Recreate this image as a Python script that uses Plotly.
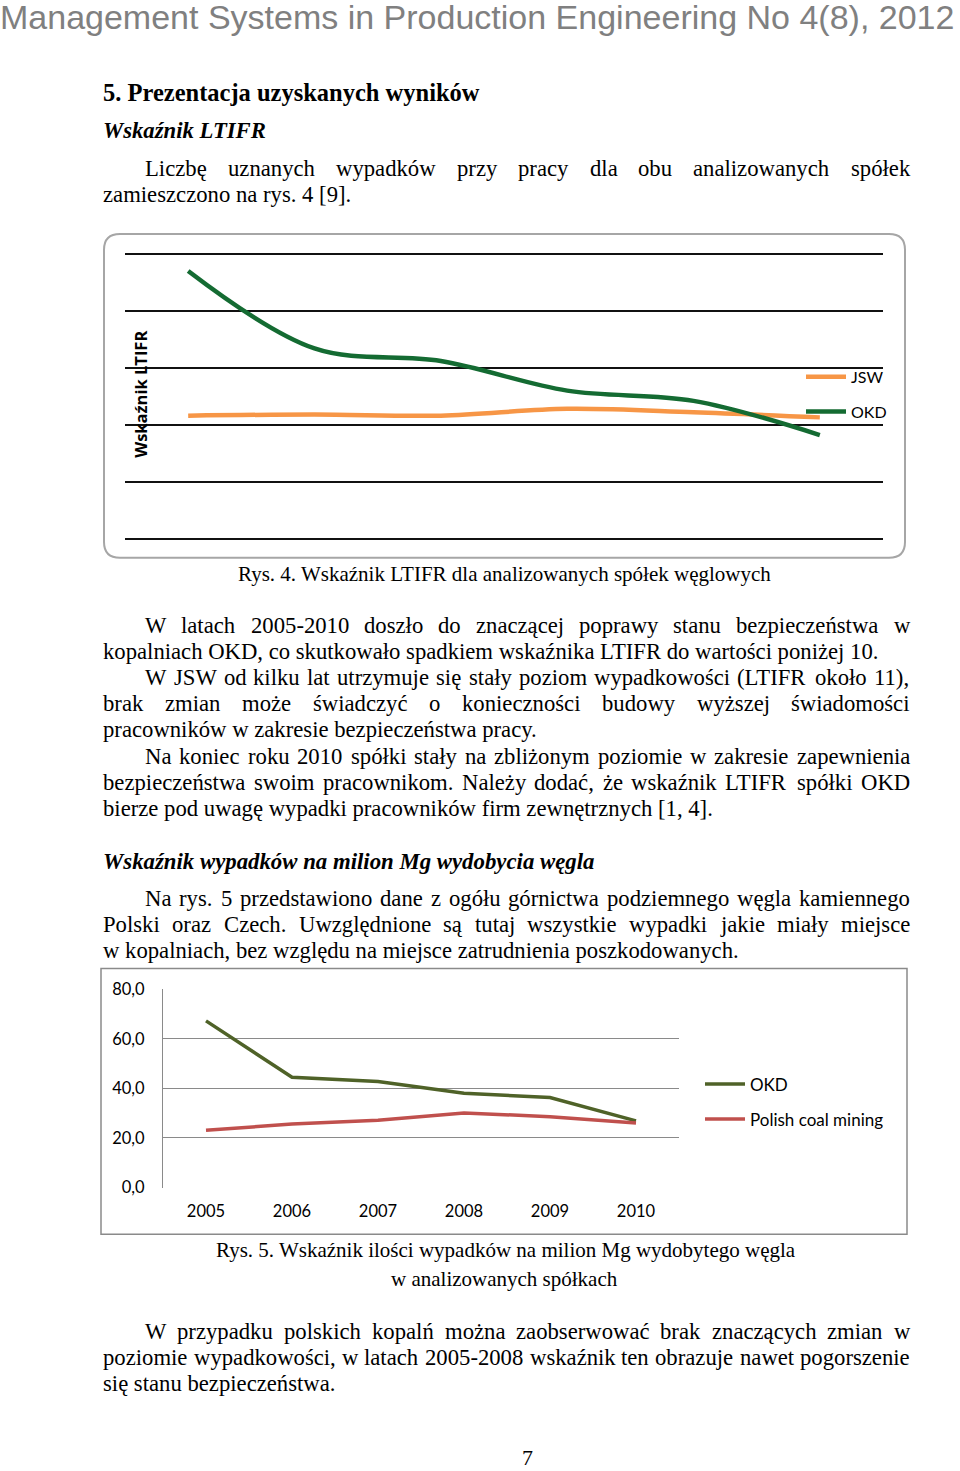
import plotly.graph_objects as go

# ---------------- data ----------------
years = ["2005", "2006", "2007", "2008", "2009", "2010"]
ltifr_jsw = [10.8, 10.9, 10.8, 11.4, 11.1, 10.65]
ltifr_okd = [23.5, 16.7, 15.6, 13.0, 12.1, 9.1]
acc_okd = [67.3, 44.5, 42.8, 38.1, 36.3, 26.9]
acc_polish = [23.1, 25.6, 27.1, 30.1, 28.6, 26.0]

W, H = 960, 1471
# vertical calibration of page placement (empirical)
Y_OFF, Y_SC = 9.0, 0.9876
def px(x):
    return x / W
def fy(y):
    return (y - Y_OFF) / Y_SC
def py(y):
    return 1 - fy(y) / H

SERIF = "Liberation Serif"
SANS = "Lato"
BODY = 22.7

# Times metrics (per 1000 em)
TW = {' ': 250, '!': 333, '(': 333, ')': 333, ',': 250, '-': 333, '.': 250, ':': 278,
      '[': 333, ']': 333, '0': 500, '1': 500, '2': 500, '3': 500, '4': 500, '5': 500,
      '6': 500, '7': 500, '8': 500, '9': 500,
      'A': 722, 'B': 667, 'C': 667, 'D': 722, 'E': 611, 'F': 556, 'G': 722, 'H': 722,
      'I': 333, 'J': 389, 'K': 722, 'L': 611, 'M': 889, 'N': 722, 'O': 722, 'P': 556,
      'Q': 722, 'R': 667, 'S': 556, 'T': 611, 'U': 722, 'V': 722, 'W': 944, 'X': 722,
      'Y': 722, 'Z': 611,
      'a': 444, 'b': 500, 'c': 444, 'd': 500, 'e': 444, 'f': 333, 'g': 500, 'h': 500,
      'i': 278, 'j': 278, 'k': 500, 'l': 278, 'm': 778, 'n': 500, 'o': 500, 'p': 500,
      'q': 500, 'r': 333, 's': 389, 't': 278, 'u': 500, 'v': 500, 'w': 722, 'x': 500,
      'y': 500, 'z': 444,
      'ę': 444, 'ą': 444, 'ó': 500, 'ł': 278, 'ś': 389, 'ć': 444, 'ż': 444, 'ź': 444,
      'ń': 500, 'Ł': 611, 'Ś': 556}

def tw(s, size):
    return sum(TW.get(c, 500) for c in s) / 1000 * size

annotations = []

def left_line(text, x, y, size=BODY, family=SERIF, color="black"):
    annotations.append(dict(text=text, x=px(x), y=py(y), xref="paper", yref="paper",
                            xanchor="left", yanchor="middle", showarrow=False, borderpad=0,
                            font=dict(family=family, size=size, color=color)))

def center_line(text, x, y, size=BODY, family=SERIF, color="black"):
    annotations.append(dict(text=text, x=px(x), y=py(y), xref="paper", yref="paper",
                            xanchor="center", yanchor="middle", showarrow=False, borderpad=0,
                            font=dict(family=family, size=size, color=color)))

def justified(text, x0, x1, y, size=BODY):
    words = text.split(" ")
    widths = [tw(w, size) for w in words]
    gap = (x1 - x0 - sum(widths)) / (len(words) - 1)
    x = x0
    for w, wd in zip(words, widths):
        left_line(w, x, y, size)
        x += wd + gap

# ---------------- page text ----------------
left_line("Management Systems in Production Engineering No 4(8), 2012", -1, 16, 34,
          "Liberation Sans", "#808080")
left_line("<b>5. Prezentacja uzyskanych wyników</b>", 102, 92, 24.5)
left_line("<b><i>Wskaźnik LTIFR</i></b>", 102, 130)
justified("Liczbę uznanych wypadków przy pracy dla obu analizowanych spółek", 144, 909, 168)
left_line("zamieszczono na rys. 4 [9].", 102, 194)
center_line("Rys. 4. Wskaźnik LTIFR dla analizowanych spółek węglowych", 505, 573, 21)

justified("W latach 2005-2010 doszło do znaczącej poprawy stanu bezpieczeństwa w", 144, 909, 625)
left_line("kopalniach OKD, co skutkowało spadkiem wskaźnika LTIFR do wartości poniżej 10.", 102, 651)
justified("W JSW od kilku lat utrzymuje się stały poziom wypadkowości (LTIFR około 11),", 144, 909, 677)
justified("brak zmian może świadczyć o konieczności budowy wyższej świadomości", 102, 909, 703)
left_line("pracowników w zakresie bezpieczeństwa pracy.", 102, 729)
justified("Na koniec roku 2010 spółki stały na zbliżonym poziomie w zakresie zapewnienia", 144, 909, 756)
justified("bezpieczeństwa swoim pracownikom. Należy dodać, że wskaźnik LTIFR spółki OKD", 102, 909, 782)
left_line("bierze pod uwagę wypadki pracowników firm zewnętrznych [1, 4].", 102, 808)

left_line("<b><i>Wskaźnik wypadków na milion Mg wydobycia węgla</i></b>", 102, 861, 22.8)
justified("Na rys. 5 przedstawiono dane z ogółu górnictwa podziemnego węgla kamiennego", 144, 909, 898)
justified("Polski oraz Czech. Uwzględnione są tutaj wszystkie wypadki jakie miały miejsce", 102, 909, 924)
left_line("w kopalniach, bez względu na miejsce zatrudnienia poszkodowanych.", 102, 950)

center_line("Rys. 5. Wskaźnik ilości wypadków na milion Mg wydobytego węgla", 506, 1250, 21)
center_line("w analizowanych spółkach", 505, 1279, 21)

justified("W przypadku polskich kopalń można zaobserwować brak znaczących zmian w", 144, 909, 1331)
justified("poziomie wypadkowości, w latach 2005-2008 wskaźnik ten obrazuje nawet pogorszenie", 102, 909, 1357)
left_line("się stanu bezpieczeństwa.", 102, 1383)
center_line("7", 527, 1457, 22)

# chart 1 axis title
annotations.append(dict(text="<b>Wskaźnik LTIFR</b>", x=px(141), y=py(394), xref="paper", yref="paper",
                        xanchor="center", yanchor="middle", textangle=-90, showarrow=False,
                        font=dict(family="Open Sans", size=16.5, color="black")))

# ---------------- figure ----------------
fig = go.Figure()

C_JSW = "#F79646"
C_OKD1 = "#146B32"
C_OKD2 = "#4F6228"
C_POL = "#C0504D"

fig.add_trace(go.Scatter(x=years, y=ltifr_jsw, name="JSW", mode="lines",
                         line=dict(color=C_JSW, width=4.5, shape="spline", smoothing=1),
                         xaxis="x", yaxis="y", legend="legend", legendgroup="a"))
fig.add_trace(go.Scatter(x=years, y=ltifr_okd, name="OKD", mode="lines",
                         line=dict(color=C_OKD1, width=4.5, shape="spline", smoothing=1),
                         xaxis="x", yaxis="y", legend="legend", legendgroup="b"))
fig.add_trace(go.Scatter(x=years, y=acc_okd, name="OKD", mode="lines",
                         line=dict(color=C_OKD2, width=3.5),
                         xaxis="x2", yaxis="y2", legend="legend2", legendgroup="c"))
fig.add_trace(go.Scatter(x=years, y=acc_polish, name="Polish coal mining", mode="lines",
                         line=dict(color=C_POL, width=3.5),
                         xaxis="x2", yaxis="y2", legend="legend2", legendgroup="d"))

# chart 1 axes: 0 -> y538, 25 -> y253 (reference pixels)
u1 = (538 - 253) / 25
pad1 = 0.1
fig.update_layout(
    xaxis=dict(domain=[px(125), px(883)], type="category", range=[-0.5, 5.5],
               showgrid=False, showticklabels=False, zeroline=False, showline=False,
               anchor="y", fixedrange=True),
    yaxis=dict(domain=[py(538 + pad1 * u1), py(253 - pad1 * u1)], range=[-pad1, 25 + pad1],
               dtick=5, tick0=0, showgrid=True, gridcolor="#111111", gridwidth=1.6,
               showticklabels=False, zeroline=False, showline=False, anchor="x", fixedrange=True),
)

# chart 2 axes: 0 -> y1187, 80 -> y989 (reference pixels)
u2 = (1187 - 989) / 80
pad2 = 0.2
fig.update_layout(
    xaxis2=dict(domain=[px(163), px(679)], type="category", range=[-0.5, 5.5],
                showgrid=False, zeroline=False, showline=False, ticks="",
                ticklabelstandoff=12, anchor="y2", fixedrange=True,
                tickfont=dict(family=SANS, size=16.5, color="black")),
    yaxis2=dict(domain=[py(1187 + pad2 * u2), py(989 - pad2 * u2)], range=[-pad2, 80 + pad2],
                dtick=20, tick0=0, tickformat=".1f", showgrid=True, gridcolor="#8a8a8a",
                gridwidth=1, zeroline=False, showline=True, linecolor="#8a8a8a", linewidth=1,
                ticks="", ticklabelstandoff=14, anchor="x2", fixedrange=True,
                tickfont=dict(family=SANS, size=16.5, color="black")),
)

shapes = []
# chart 1 rounded border
x0, x1, y0, y1 = px(104), px(905), py(233), py(557)
rx, ry = 16 / W, 16 / H
path = (f"M {x0+rx},{y0} L {x1-rx},{y0} Q {x1},{y0} {x1},{y0-ry} "
        f"L {x1},{y1+ry} Q {x1},{y1} {x1-rx},{y1} L {x0+rx},{y1} Q {x0},{y1} {x0},{y1+ry} "
        f"L {x0},{y0-ry} Q {x0},{y0} {x0+rx},{y0} Z")
shapes.append(dict(type="path", path=path, xref="paper", yref="paper",
                   line=dict(color="#a6a6a6", width=2), layer="below"))
# chart 2 border
shapes.append(dict(type="rect", x0=px(101), x1=px(907), y0=py(968), y1=py(1234),
                   xref="paper", yref="paper", line=dict(color="#8a8a8a", width=1.5), layer="below"))

fig.update_layout(
    width=W, height=H, margin=dict(l=0, r=0, t=0, b=0),
    paper_bgcolor="white", plot_bgcolor="rgba(0,0,0,0)",
    separators=", ",
    showlegend=True,
    legend=dict(x=px(801), y=py(359), xanchor="left", yanchor="top", bgcolor="rgba(0,0,0,0)",
                borderwidth=0, tracegroupgap=11, itemwidth=40,
                font=dict(family=SANS, size=16, color="black")),
    legend2=dict(x=px(700), y=py(1066), xanchor="left", yanchor="top", bgcolor="rgba(0,0,0,0)",
                 borderwidth=0, tracegroupgap=10, itemwidth=40,
                 font=dict(family=SANS, size=17, color="black")),
    annotations=annotations,
    shapes=shapes,
)

fig.write_html("out.html", config={"displayModeBar": False},
               post_script="document.body.style.margin='0';document.body.style.padding='0';")
